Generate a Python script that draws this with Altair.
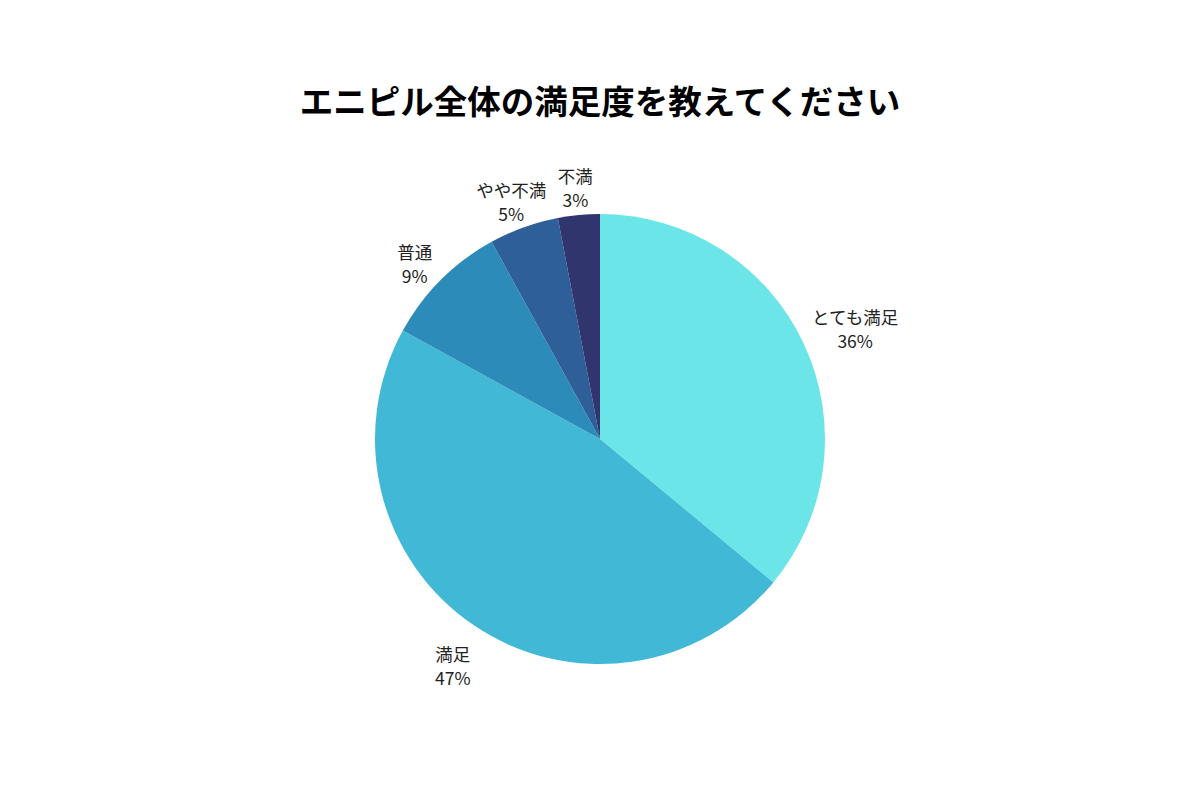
import altair as alt
import pandas as pd

categories = ["とても満足", "満足", "普通", "やや不満", "不満"]
values = [36, 47, 9, 5, 3]
colors = ["#6CE5E8", "#41B8D5", "#2D8BBA", "#2F5F98", "#31356E"]

df = pd.DataFrame({
    "category": categories,
    "value": values,
    "order": list(range(len(categories))),
})
df["label"] = [f"{c}\n{v}%" for c, v in zip(categories, values)]

CX, CY = 592, 283

base = alt.Chart(df).encode(
    theta=alt.Theta("value:Q", stack=True),
    order=alt.Order("order:Q"),
)

arcs = base.mark_arc(outerRadius=225, stroke=None).encode(
    x=alt.value(CX),
    y=alt.value(CY),
    color=alt.Color("category:N", scale=alt.Scale(domain=categories, range=colors), legend=None),
)

text_style = dict(fontSize=17.5, font="Noto Sans CJK JP", color="#222222",
                  align="center", baseline="middle", lineBreak="\n", lineHeight=24)

# theta stacking must see all rows, so other rows of each label layer are hidden via opacity
labels = base.mark_text(radius=262, **text_style).encode(
    x=alt.value(CX),
    y=alt.value(CY),
    text="label:N",
    opacity=alt.condition(alt.datum.category != categories[0], alt.value(1), alt.value(0)),
)

labels_first = base.mark_text(radius=282, **text_style).encode(
    x=alt.value(CX),
    y=alt.value(CY),
    text="label:N",
    opacity=alt.condition(alt.datum.category == categories[0], alt.value(1), alt.value(0)),
)

chart = alt.layer(arcs, labels, labels_first).properties(
    width=1184,
    height=620,
    autosize=alt.AutoSizeParams(type="none"),
    padding={"left": 0, "right": 0, "top": 148, "bottom": 0},
    title=alt.TitleParams(
        "エニピル全体の満足度を教えてください",
        fontSize=33.5, font="Noto Sans CJK JP", fontWeight="bold", color="#000000",
        anchor="middle", offset=28,
    ),
).configure_view(stroke=None)

chart.save("out.html", embed_options={"renderer": "svg", "actions": False})
